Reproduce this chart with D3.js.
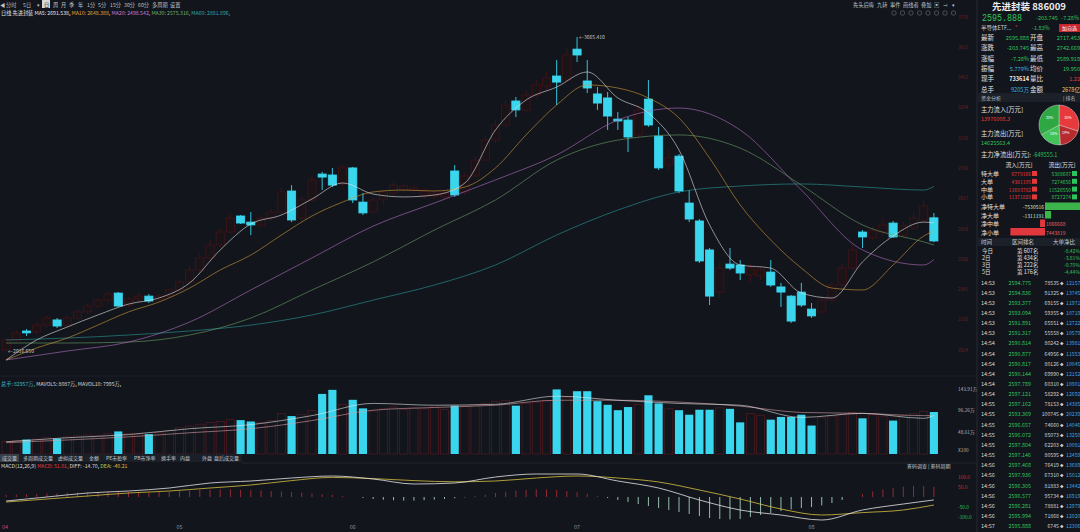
<!DOCTYPE html>
<html>
<head>
<meta charset="utf-8">
<script src="https://cdn.jsdelivr.net/npm/d3@7/dist/d3.min.js"></script>
<style>
  html, body { margin: 0; padding: 0; background: #12151c; overflow: hidden; }
  svg { display: block; }
  text { font-family: "Noto Sans CJK SC", "Noto Sans", sans-serif; }
</style>
</head>
<body>
<svg id="chart" width="1080" height="532"></svg>
<script>
// daily candles of 先进封装 (886009), one entry per trading day
const opens = [2024,2077,2124,2119,2155,2182,2155,2192,2224,2255,
  2286,2323,2260,2292,2307,2286,2307,2339,2381,2444,
  2507,2575,2643,2727,2695,2680,2716,2748,2858,2716,
  2811,2947,2942,2895,2979,2800,2748,2811,2847,2863,
  2863,2832,2832,2827,2963,2853,2937,3020,3125,3204,
  3330,3283,3361,3408,3461,3440,3602,3435,3367,3346,
  3235,3230,3152,3340,3146,2994,3041,2795,2701,2549,
  2328,2475,2470,2418,2412,2433,2355,2307,2328,2239,
  2224,2286,2365,2454,2643,2612,2643,2690,2627,2664,
  2706,2717.45];
const highs = [2087,2129,2134,2171,2208,2192,2208,2239,2271,2297,
  2328,2328,2302,2323,2318,2318,2349,2391,2465,2528,
  2601,2664,2737,2732,2748,2732,2764,2874,2889,2832,
  2937,2958,2979,2999,2984,2847,2827,2863,2905,2900,
  2889,2874,2863,2863,2994,2958,3041,3146,3230,3335,
  3351,3388,3440,3482,3545,3608,3665.41,3545,3403,3377,
  3272,3246,3309,3440,3194,3073,3052,2863,2711,2559,
  2486,2559,2496,2475,2465,2496,2376,2312,2376,2271,
  2307,2381,2475,2575,2653,2675,2716,2701,2695,2748,
  2811,2742.67];
const lows = [2016.65,2066,2098,2108,2145,2140,2145,2182,2213,2244,
  2271,2250,2250,2276,2271,2276,2297,2328,2370,2433,
  2496,2559,2633,2685,2627,2664,2701,2737,2695,2695,
  2800,2863,2879,2884,2795,2732,2737,2785,2827,2847,
  2842,2816,2816,2816,2827,2837,2926,3010,3110,3188,
  3246,3272,3346,3388,3309,3429,3534,3372,3283,3178,
  3178,3062,3136,3194,2968,2968,2847,2695,2481,2260,
  2297,2444,2391,2381,2391,2355,2250,2166,2250,2192,
  2213,2271,2349,2444,2559,2601,2622,2612,2612,2653,
  2695,2589.92];
const closes = [2077,2114,2114,2155,2192,2150,2192,2224,2255,2286,
  2318,2255,2292,2307,2281,2307,2339,2381,2444,2507,
  2575,2643,2716,2690,2680,2716,2748,2853,2706,2811,
  2916,2931,2889,2979,2811,2743,2811,2853,2889,2884,
  2874,2858,2847,2847,2837,2937,3020,3125,3204,3309,
  3283,3361,3414,3450,3429,3571,3571,3398,3319,3251,
  3225,3141,3283,3204,2979,3031,2858,2711,2491,2307,
  2454,2454,2428,2454,2444,2365,2328,2176,2260,2203,
  2286,2365,2454,2549,2617,2653,2680,2617,2675,2716,
  2779,2595.89];
// volume, 万
const volumes = [28,30,32,33,36,34,38,40,42,40,
  45,50,46,44,44,48,52,58,62,66,
  70,72,76,75,72,70,74,90,84,88,
  96,133,142,110,120,101,95,100,104,98,
  102,100,104,98,107,106,110,112,116,118,
  107,112,115,118,143,125,139,139,117,109,
  97,104,110,130,112,100,97,87,98,98,
  102,100,70,90,86,76,82,82,87,63,
  80,84,88,92,79,88,84,74,86,90,
  94,93];

// moving averages (short ones every 3 days, long ones every 6)
const ma5 = [1972,2077,2145,2208,2265,2297,2376,2549,2685,2732,2816,2900,2842,2827,2837,2900,
  3178,3335,3403,3482,3346,3267,3073,2680,2470,2454,2323,2297,2486,2622,2695,2691.54];
const ma10 = [1972,2035,2087,2155,2224,2276,2349,2444,2522,2627,2727,2800,2853,2863,2858,2879,
  2979,3152,3309,3414,3398,3346,3241,3031,2785,2601,2454,2349,2339,2470,2622,2648.39];
const ma20 = [1972,2019,2066,2171,2339,2507,2674,2795,2916,3047,3230,3293,3178,2863,2549,2470,2498.54];
const ma30 = [2061,2061,2066,2103,2192,2339,2486,2653,2811,3020,3125,3152,3083,2889,2680,2591,2575];
const ma60 = [2077,2087,2103,2124,2155,2208,2286,2365,2470,2627,2758,2853,2884,2895,2879,2863,2881.9];
const mavol5 = [27,36,43,56,65,85,112,108,110,128,119,112,108,81,90,79,85];
const mavol10 = [25,31,38,47,56,74,97,103,108,119,119,115,106,92,90,85,85];

// MACD(12,26,9)
const diff = [-20,0,20,30,45,70,80,95,105,90,65,70,100,115,115,80,45,-15,-65,-90,-115,-65,-35,-14.70];
const dea = [-25,-10,5,20,30,45,60,82,98,92,82,76,80,95,105,95,75,35,-10,-60,-90,-78,-65,-40.21];
const macdBars = [10,12,14,16,18,18,
  20,22,24,25,26,26,25,24,24,25,26,
  30,32,35,36,38,38,36,34,32,30,28,
  25,22,18,14,10,5,0,-5,
  -10,-14,-16,-18,-18,-16,-13,-10,-6,
  -2,5,12,20,26,32,36,38,38,35,30,
  24,16,6,-5,
  -15,-25,-35,-45,-55,-65,-75,-85,-95,-105,-110,-112,-110,-100,-90,-80,-70,-62,-55,-50,
  -42,-30,-15,0,15,28,38,46,52,56,55,51];

const months = ['04', '05', '06', '07', '08'];
const monthStart = [0, 17, 34, 56, 79];
const priceTicks = [3770, 3611, 3452, 3294, 3135, 2976, 2817, 2658, 2500, 2341, 2182, 2024];
const volTicks = [143.91, 96.26, 48.61];
const macdTicks = [100, 50, -50, -100];

// side panel
const quoteLabels = [['最新', '开盘'], ['涨跌', '最高'], ['涨幅', '最低'], ['振幅', '均价'], ['现手', '量比'], ['总手', '金额']];
const quoteValues = [['2595.888', '2717.453'], ['-203.745', '2742.669'], ['-7.28%', '2589.918'],
  ['5.779%', '19.950'], ['733614', '1.22'], ['9205万', '2678亿']];
const flowNames = ['特大单', '大单', '中单', '小单'];
const flowIn = [6779166, 4381195, 11693782, 11371829];
const flowOut = [5388607, 7274656, 11526550, 8727274];
const netNames = ['净特大单', '净大单', '净中单', '净小单'];
const netValues = [-7530516, -1311191, 1066668, 7443819];
const pieShares = [30, 19, 18, 33];
const rankDays = ['今日', '2日', '3日', '5日'];
const rankPlace = [607, 434, 222, 176];
const rankRatio = ['-8.42%', '-3.81%', '-0.70%', '-4.44%'];
const tickTimes = ['14:53','14:53','14:53','14:53','14:53','14:53','14:54','14:54','14:54','14:54','14:54','14:54',
  '14:55','14:55','14:55','14:55','14:55','14:55','14:56','14:56','14:56','14:56','14:56','14:56','14:57'];
const tickPrices = ['2594.775','2594.836','2593.377','2593.094','2591.891','2591.317','2590.814','2590.877',
  '2590.817','2590.144','2597.789','2597.121','2597.162','2593.369','2596.657','2596.072','2597.804',
  '2597.146','2597.468','2597.936','2596.305','2596.577','2596.281','2595.994','2595.888'];
const tickVols = ['78535','91325','69155','59355','65551','55558','80242','64956','80126','69990','60310',
  '58292','78153','100745','74660','85073','62203','80595','76419','67310','81883','95734','78881','71868','6745'];
const tickNums = ['12157','13745','11971','10719','12722','10579','13981','11553','10045','12152','10901',
  '12692','14385','20239','14046','13250','10081','12459','13689','15012','13442','16919','12979','12020','12306'];

const CYAN = '#3ad6ee', DIMRED = '#421519', GREEN = '#2fc45a', RED = '#e23a3a';
const svg = d3.select('#chart');
svg.append('rect').attr('width', 1080).attr('height', 532).attr('fill', '#12151c');

const x = d3.scaleBand().domain(d3.range(closes.length)).range([0, 940]).padding(0.2);
const cx = (i) => x(i) + x.bandwidth() / 2;
const y = d3.scaleLinear().domain([1919.5, 3780.8]).range([370, 15]);
const yVol = d3.scaleLinear().domain([0, 143.91]).range([454, 389]);
const yMacd = d3.scaleLinear().domain([-120, 120]).range([521, 473]);

const shortIdx = d3.range(0, 91, 3).concat([91]);
const longIdx = d3.range(0, 91, 6).concat([91]);
const macdIdx = d3.range(0, 89, 4).concat([91]);

const candles = closes.map((c, i) => ({ i, o: opens[i], h: highs[i], l: lows[i], c, up: c >= opens[i] }));

// ---- top toolbar + legend
const tools = ['分时', '5日', '▾', '日', '周', '月', '季', '年', '1分', '5分', '15分', '30分', '60分', '多周期', '设置'];
const toolX = [6, 23, 37, 44, 53, 61, 69, 78, 87, 98, 110, 124, 138, 152, 170];
svg.append('rect').attr('x', 42).attr('y', 0).attr('width', 8).attr('height', 8).attr('fill', '#d8d8d8');
svg.append('g').selectAll('text').data(tools).enter().append('text')
  .attr('x', (d, i) => toolX[i]).attr('y', 6.5).attr('font-size', 5.2)
  .attr('fill', (d) => (d === '日' ? '#12151c' : '#bfc3ca')).text((d) => d);
svg.append('text').attr('x', 0).attr('y', 6.5).attr('font-size', 5.2).attr('fill', '#bfc3ca').text('◀');

const legend = svg.append('text').attr('x', 1).attr('y', 15).attr('font-size', 5.2);
[['日线  先进封装  MA5: 2691.538, ', '#e6e6e6'], ['MA10: 2648.388, ', '#e0a33a'], ['MA20: 2498.542, ', '#c67bd6'],
  ['MA30: 2575.316, ', '#6fae6a'], ['MA60: 2881.896,', '#2fa6a8']].forEach(([t, c]) =>
  legend.append('tspan').attr('fill', c).text(t));

const rtools = ['先头后嗨', '九转', '事件', '画线者', '叠加', '▣', '⊣', '▾'];
const rtoolX = [853, 877, 890, 903, 921, 934, 943, 952];
svg.append('g').selectAll('text').data(rtools).enter().append('text')
  .attr('x', (d, i) => rtoolX[i]).attr('y', 6.5).attr('font-size', 5.2).attr('fill', '#bfc3ca').text((d) => d);
svg.append('g').selectAll('circle').data(d3.range(8)).enter().append('circle')
  .attr('cx', (d) => 894 + d * 8.5).attr('cy', 13).attr('r', 2.2)
  .attr('fill', 'none').attr('stroke', '#6b7079').attr('stroke-width', 0.6);

// ---- price axis labels (right)
svg.append('g').selectAll('text').data(priceTicks).enter().append('text')
  .attr('x', 968).attr('y', (d) => y(d) + 1.5).attr('text-anchor', 'end')
  .attr('font-size', 4.5).attr('fill', '#6a2429').text((d) => d.toFixed(0));

// ---- candles (up days are drawn hollow in a dim red)
const gC = svg.append('g');
gC.selectAll('line').data(candles).enter().append('line')
  .attr('x1', (d) => cx(d.i)).attr('x2', (d) => cx(d.i))
  .attr('y1', (d) => y(d.h)).attr('y2', (d) => y(d.l))
  .attr('stroke', (d) => (d.up ? DIMRED : CYAN)).attr('stroke-width', 0.9);
gC.selectAll('rect').data(candles).enter().append('rect')
  .attr('x', (d) => x(d.i)).attr('width', x.bandwidth())
  .attr('y', (d) => y(Math.max(d.o, d.c)))
  .attr('height', (d) => Math.max(1, Math.abs(y(d.o) - y(d.c))))
  .attr('fill', (d) => (d.up ? '#1a1318' : CYAN))
  .attr('stroke', (d) => (d.up ? DIMRED : CYAN)).attr('stroke-width', 0.8);

// ---- MA lines
const priceLine = d3.line().x((d) => cx(d[0])).y((d) => y(d[1])).curve(d3.curveMonotoneX);
[[ma60, longIdx, '#2a9a9a'], [ma30, longIdx, '#6a9f68'], [ma20, longIdx, '#b070c0'],
  [ma10, shortIdx, '#d09a38'], [ma5, shortIdx, '#e2e2e2']].forEach(([vals, idx, color]) => {
  svg.append('path').datum(idx.map((i, k) => [i, vals[k]]))
    .attr('d', priceLine).attr('fill', 'none').attr('stroke', color)
    .attr('stroke-width', 0.75).attr('opacity', 0.8);
});

// high / low markers
const hiIdx = d3.maxIndex(highs), loIdx = d3.minIndex(lows);
svg.append('text').attr('x', cx(hiIdx) + 2).attr('y', y(highs[hiIdx]) + 1.5)
  .attr('font-size', 5).attr('fill', '#c8c8c8').text('←' + highs[hiIdx].toFixed(3));
svg.append('text').attr('x', cx(loIdx) + 2).attr('y', y(lows[loIdx]) + 1.5)
  .attr('font-size', 5).attr('fill', '#c8c8c8').text('←' + lows[loIdx].toFixed(3));

// ---- volume panel
svg.append('line').attr('x1', 0).attr('x2', 976).attr('y1', 376).attr('y2', 376).attr('stroke', '#1c2028');
const vHead = svg.append('text').attr('x', 1).attr('y', 386).attr('font-size', 5.2);
vHead.append('tspan').attr('fill', '#3ab8c8').text('总手: 82957万, ');
vHead.append('tspan').attr('fill', '#d8d8d8').text('MAVOL5: 8087万,  MAVOL10: 7995万,');

const gV = svg.append('g');
gV.selectAll('rect').data(candles).enter().append('rect')
  .attr('x', (d) => x(d.i)).attr('width', x.bandwidth())
  .attr('y', (d) => yVol(volumes[d.i]))
  .attr('height', (d) => yVol(0) - yVol(volumes[d.i]))
  .attr('fill', (d) => (d.up ? 'none' : CYAN))
  .attr('stroke', (d) => (d.up ? '#561a1f' : 'none')).attr('stroke-width', 0.7);
const volLine = d3.line().x((d) => cx(d[0])).y((d) => yVol(d[1])).curve(d3.curveMonotoneX);
[[mavol10, '#d9a0a8'], [mavol5, '#e6e6e6']].forEach(([vals, color]) => {
  svg.append('path').datum(longIdx.map((i, k) => [i, vals[k]]))
    .attr('d', volLine).attr('fill', 'none').attr('stroke', color).attr('stroke-width', 0.7).attr('opacity', 0.85);
});
svg.append('g').selectAll('text').data(volTicks).enter().append('text')
  .attr('x', 958).attr('y', (d) => yVol(d) + 1.5).attr('font-size', 4.8).attr('fill', '#b0b4bb')
  .text((d) => d.toFixed(2) + '万');
svg.append('text').attr('x', 958).attr('y', 452).attr('font-size', 4.8).attr('fill', '#b0b4bb').text('X100');

// tabs
const tabs = ['成交量', '多周期成交量', '虚拟成交量', '金额', 'PE市盈率', 'PB市净率', '换手率', '内盘', '外盘', '盘后成交量'];
const tabX = [2, 23, 58, 89, 106, 134, 161, 180, 202, 214];
svg.append('rect').attr('x', 0).attr('y', 454).attr('width', 242).attr('height', 8).attr('fill', '#1b1f27');
svg.append('rect').attr('x', 0).attr('y', 454).attr('width', 19).attr('height', 8).attr('fill', '#3a3f49');
svg.append('g').selectAll('text').data(tabs).enter().append('text')
  .attr('x', (d, i) => tabX[i]).attr('y', 460).attr('font-size', 5).attr('fill', '#c5c9d0').text((d) => d);
svg.append('line').attr('x1', 242).attr('x2', 976).attr('y1', 463).attr('y2', 463).attr('stroke', '#22262e');

// ---- MACD panel
const mHead = svg.append('text').attr('x', 1).attr('y', 468).attr('font-size', 5.2);
mHead.append('tspan').attr('fill', '#d8d8d8').text('MACD(12,26,9)  ');
mHead.append('tspan').attr('fill', RED).text('MACD: 51.01, ');
mHead.append('tspan').attr('fill', '#d8d8d8').text('DIFF: -14.70, ');
mHead.append('tspan').attr('fill', '#d8c040').text('DEA: -40.21');
svg.append('text').attr('x', 907).attr('y', 468).attr('font-size', 5).attr('fill', '#c5c9d0').text('筹码调查  |  筹码周期');

svg.append('g').selectAll('line').data(macdBars).enter().append('line')
  .attr('x1', (d, i) => cx(i)).attr('x2', (d, i) => cx(i))
  .attr('y1', yMacd(0)).attr('y2', (d) => yMacd(d))
  .attr('stroke', (d) => (d >= 0 ? '#b8303a' : '#b8e8d0')).attr('stroke-width', 0.8);
const macdLine = d3.line().x((d) => cx(d[0])).y((d) => yMacd(d[1])).curve(d3.curveMonotoneX);
[[dea, '#d8c040'], [diff, '#e6e6e6']].forEach(([vals, color]) => {
  svg.append('path').datum(macdIdx.map((i, k) => [i, vals[k]]))
    .attr('d', macdLine).attr('fill', 'none').attr('stroke', color).attr('stroke-width', 0.8);
});
svg.append('g').selectAll('text').data(macdTicks).enter().append('text')
  .attr('x', 958).attr('y', (d) => yMacd(d) + 1.5).attr('font-size', 4.8)
  .attr('fill', (d) => (d > 0 ? '#c8323c' : '#2fc45a')).text((d) => d.toFixed(1));

// month axis
svg.append('g').selectAll('text').data(months).enter().append('text')
  .attr('x', (d, i) => (i === 0 ? 2 : cx(monthStart[i]))).attr('y', 529)
  .attr('text-anchor', (d, i) => (i === 0 ? 'start' : 'middle'))
  .attr('font-size', 5.5).attr('fill', (d, i) => (i === 0 ? '#d04070' : '#8a8f98')).text((d) => d);

// ---- side panel
const side = svg.append('g');
side.append('line').attr('x1', 977).attr('x2', 977).attr('y1', 0).attr('y2', 532).attr('stroke', '#262a34');
side.append('text').attr('x', 1029).attr('y', 10).attr('text-anchor', 'middle')
  .attr('font-size', 9.5).attr('font-weight', 'bold').attr('fill', '#eeeeee').text('先进封装 886009');
side.append('text').attr('x', 982).attr('y', 21).attr('font-size', 11).attr('fill', GREEN)
  .style('font-family', '"Liberation Mono", monospace')
  .attr('textLength', 40).attr('lengthAdjust', 'spacingAndGlyphs').text('2595.888');
side.append('text').attr('x', 1036).attr('y', 20).attr('font-size', 5.5).attr('fill', GREEN).text('-203.745');
side.append('text').attr('x', 1079).attr('y', 20).attr('text-anchor', 'end').attr('font-size', 5.5).attr('fill', GREEN).text('-7.28%');
side.append('text').attr('x', 981).attr('y', 30).attr('font-size', 5.5).attr('fill', '#d0d0d0').text('半导体ETF...');
side.append('text').attr('x', 1015).attr('y', 29).attr('font-size', 5).attr('fill', RED).text('*');
side.append('text').attr('x', 1032).attr('y', 30).attr('font-size', 5.5).attr('fill', GREEN).text('-1.83%');
side.append('rect').attr('x', 1059).attr('y', 24).attr('width', 21).attr('height', 8).attr('fill', '#c8252c');
side.append('text').attr('x', 1069.5).attr('y', 30).attr('text-anchor', 'middle').attr('font-size', 5).attr('fill', '#ffffff').text('加自选');

const quoteColor = [[GREEN, GREEN], [GREEN, GREEN], [GREEN, GREEN], ['#3fb8e0', GREEN], ['#f0f0f0', RED], ['#3fb8e0', '#e8d070']];
quoteLabels.forEach((pair, r) => {
  const yy = 40 + r * 10.3;
  side.append('text').attr('x', 981).attr('y', yy).attr('font-size', 6.5).attr('fill', '#e0e0e0').text(pair[0]);
  side.append('text').attr('x', 1029).attr('y', yy).attr('text-anchor', 'end').attr('font-size', 5.6)
    .attr('font-weight', r === 4 ? 'bold' : 'normal').attr('fill', quoteColor[r][0]).text(quoteValues[r][0]);
  side.append('text').attr('x', 1030).attr('y', yy).attr('font-size', 6.5).attr('fill', '#e0e0e0').text(pair[1]);
  side.append('text').attr('x', 1080).attr('y', yy).attr('text-anchor', 'end').attr('font-size', 5.6)
    .attr('fill', quoteColor[r][1]).text(quoteValues[r][1]);
});
side.append('rect').attr('x', 978).attr('y', 93).attr('width', 102).attr('height', 9).attr('fill', '#1c2028');
side.append('text').attr('x', 981).attr('y', 99.5).attr('font-size', 5).attr('fill', '#b8bcc4').text('资金分析');
side.append('text').attr('x', 1063).attr('y', 99.5).attr('font-size', 5).attr('fill', '#b8bcc4').text('|  排名');

side.append('text').attr('x', 981).attr('y', 112).attr('font-size', 6.3).attr('fill', '#e0e0e0').text('主力流入[万元]');
side.append('text').attr('x', 981).attr('y', 121).attr('font-size', 5.5).attr('fill', RED).text('13976008.3');
side.append('text').attr('x', 981).attr('y', 136).attr('font-size', 6.3).attr('fill', '#e0e0e0').text('主力流出[万元]');
side.append('text').attr('x', 981).attr('y', 145).attr('font-size', 5.5).attr('fill', GREEN).text('14625563.4');
const netHead = side.append('text').attr('x', 981).attr('y', 157).attr('font-size', 6.3);
netHead.append('tspan').attr('fill', '#e0e0e0').text('主力净流出[万元]: ');
netHead.append('tspan').attr('fill', GREEN).attr('font-size', 5.5).text('-649555.1');

// pie of inflow / outflow shares
const pie = d3.pie().sort(null).value((d) => d);
const arc = d3.arc().innerRadius(0).outerRadius(20);
const pieColors = ['#e8393c', '#b82a2e', '#44c25a', '#2fa844'];
const gPie = side.append('g').attr('transform', 'translate(1059,125)');
gPie.selectAll('path').data(pie(pieShares)).enter().append('path')
  .attr('d', arc).attr('fill', (d, i) => pieColors[i]).attr('stroke', '#f0f0f0').attr('stroke-width', 0.4);
gPie.selectAll('text').data(pie(pieShares)).enter().append('text')
  .attr('transform', (d) => `translate(${d3.arc().innerRadius(11).outerRadius(11).centroid(d)})`)
  .attr('text-anchor', 'middle').attr('font-size', 3.6).attr('fill', '#ffffff').text((d) => d.data + '%');

side.append('text').attr('x', 1019).attr('y', 167).attr('text-anchor', 'middle').attr('font-size', 5.8).attr('fill', '#e0e0e0').text('流入[万元]');
side.append('text').attr('x', 1062).attr('y', 167).attr('text-anchor', 'middle').attr('font-size', 5.8).attr('fill', '#e0e0e0').text('流出[万元]');
flowNames.forEach((name, r) => {
  const yy = 176 + r * 7.8;
  side.append('text').attr('x', 981).attr('y', yy).attr('font-size', 6).attr('fill', '#e0e0e0').text(name);
  side.append('text').attr('x', 1031).attr('y', yy).attr('text-anchor', 'end').attr('font-size', 5).attr('fill', RED).text(flowIn[r]);
  side.append('rect').attr('x', 1032).attr('y', yy - 5).attr('width', 5).attr('height', 5).attr('fill', RED);
  side.append('text').attr('x', 1071).attr('y', yy).attr('text-anchor', 'end').attr('font-size', 5).attr('fill', GREEN).text(flowOut[r]);
  side.append('rect').attr('x', 1072).attr('y', yy - 5).attr('width', 5).attr('height', 5).attr('fill', GREEN);
});
const netX = d3.scaleLinear().domain([-7530516, 7530516]).range([1080, 1010]);
netNames.forEach((name, r) => {
  const yy = 209 + r * 8.5;
  const v = netValues[r];
  side.append('text').attr('x', 981).attr('y', yy).attr('font-size', 6).attr('fill', '#e0e0e0').text(name);
  side.append('rect').attr('x', Math.min(netX(0), netX(v))).attr('y', yy - 6.5)
    .attr('width', Math.abs(netX(v) - netX(0))).attr('height', 7.5).attr('fill', v < 0 ? '#3cb44b' : '#e0383c');
  side.append('text').attr('x', v < 0 ? netX(0) - 1 : netX(0) + 1).attr('y', yy)
    .attr('text-anchor', v < 0 ? 'end' : 'start').attr('font-size', 5)
    .attr('fill', v < 0 ? '#d0e8d0' : '#f06060').text(v);
});

side.append('rect').attr('x', 978).attr('y', 238).attr('width', 102).attr('height', 8).attr('fill', '#1c2028');
side.append('text').attr('x', 981).attr('y', 244).attr('font-size', 5.5).attr('fill', '#d0d0d0').text('时间');
side.append('text').attr('x', 1023).attr('y', 244).attr('text-anchor', 'middle').attr('font-size', 5.5).attr('fill', '#d0d0d0').text('区间排名');
side.append('text').attr('x', 1064).attr('y', 244).attr('text-anchor', 'middle').attr('font-size', 5.5).attr('fill', '#d0d0d0').text('大单净比');
rankDays.forEach((d, r) => {
  const yy = 253 + r * 7;
  side.append('text').attr('x', 982).attr('y', yy).attr('font-size', 5.5).attr('fill', '#e0e0e0').text(d);
  side.append('text').attr('x', 1017).attr('y', yy).attr('font-size', 5.5).attr('fill', '#e0e0e0').text('第 ' + rankPlace[r] + '名');
  side.append('text').attr('x', 1080).attr('y', yy).attr('text-anchor', 'end').attr('font-size', 5).attr('fill', GREEN).text(rankRatio[r]);
});

// tick list
tickTimes.forEach((t, r) => {
  const yy = 284.5 + r * 10.15;
  side.append('text').attr('x', 981).attr('y', yy).attr('font-size', 5.6).attr('fill', '#d8d8d8').text(t);
  side.append('text').attr('x', 1031).attr('y', yy).attr('text-anchor', 'end').attr('font-size', 5.4).attr('fill', GREEN).text(tickPrices[r]);
  side.append('text').attr('x', 1059).attr('y', yy).attr('text-anchor', 'end').attr('font-size', 5.2).attr('fill', '#cfcfcf').text(tickVols[r]);
  side.append('text').attr('x', 1060).attr('y', yy).attr('font-size', 3.5).attr('fill', '#cfcfcf').text('◆');
  side.append('text').attr('x', 1066).attr('y', yy).attr('font-size', 5.2).attr('fill', '#3aa0e0').text(tickNums[r]);
});
</script>
</body>
</html>
